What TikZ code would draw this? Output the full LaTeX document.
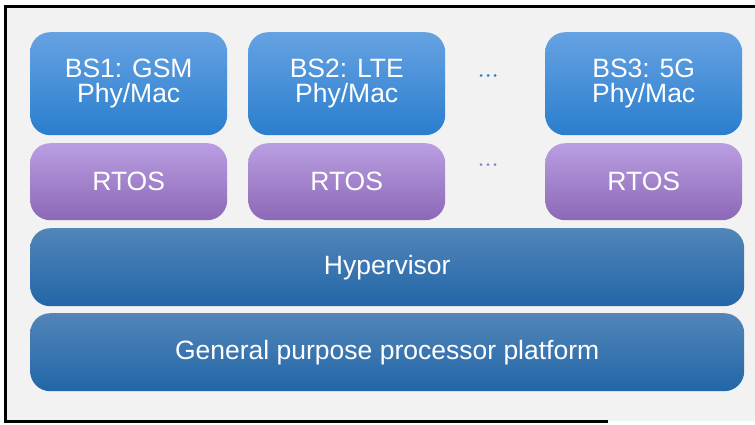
\documentclass[tikz,border=0pt]{standalone}
\usepackage{fontspec}
\setmainfont{Liberation Sans}
\definecolor{bgray}{HTML}{F2F2F2}
\definecolor{bstop}{HTML}{66A2E2}
\definecolor{bsbot}{HTML}{2A7ECE}
\definecolor{rttop}{HTML}{BA9EE2}
\definecolor{rtbot}{HTML}{8C68B6}
\definecolor{hvtop}{HTML}{5285B8}
\definecolor{hvbot}{HTML}{2266A8}
\definecolor{dotblue}{HTML}{2F78C4}
\definecolor{dotpurple}{HTML}{9A76C6}
\tikzset{
  layerbox/.style={rounded corners=20pt, anchor=north west, text=white, align=center,
    font=\fontsize{26.5}{25.5}\selectfont, inner sep=0pt},
  bsbox/.style={layerbox, top color=bstop, bottom color=bsbot, minimum width=197pt, minimum height=103pt},
  rtbox/.style={layerbox, top color=rttop, bottom color=rtbot, minimum width=197pt, minimum height=77pt},
  hvbox/.style={layerbox, top color=hvtop, bottom color=hvbot, minimum width=714pt, minimum height=78pt}
}
\begin{document}
\begin{tikzpicture}[x=1pt,y=-1pt]
\useasboundingbox (0,0) rectangle (755,424);
\fill[white] (0,0) rectangle (755,424);
\fill[bgray] (5,6) rectangle (755,421);
\draw[line width=3pt] (755,6) -- (5,6) -- (5,421) -- (608,421);
\node[bsbox] (bs1) at (30,32) {BS1: GSM\\Phy/Mac};
\node[bsbox] (bs2) at (248,32) {BS2: LTE\\Phy/Mac};
\node[bsbox] (bs3) at (545,32) {BS3: 5G\\Phy/Mac};
\node[rtbox] (rt1) at (30,143) {RTOS};
\node[rtbox] (rt2) at (248,143) {RTOS};
\node[rtbox] (rt3) at (545,143) {RTOS};
\node[hvbox] (hv) at (30,228) {Hypervisor};
\node[hvbox] (gp) at (30,313) {General purpose processor platform};
\foreach \i in {0,1,2} {
  \fill[dotblue] (481+7*\i,75.5) circle (1.5pt);
  \fill[dotpurple] (481+7*\i,164.5) circle (1.5pt);
}
\end{tikzpicture}
\end{document}
